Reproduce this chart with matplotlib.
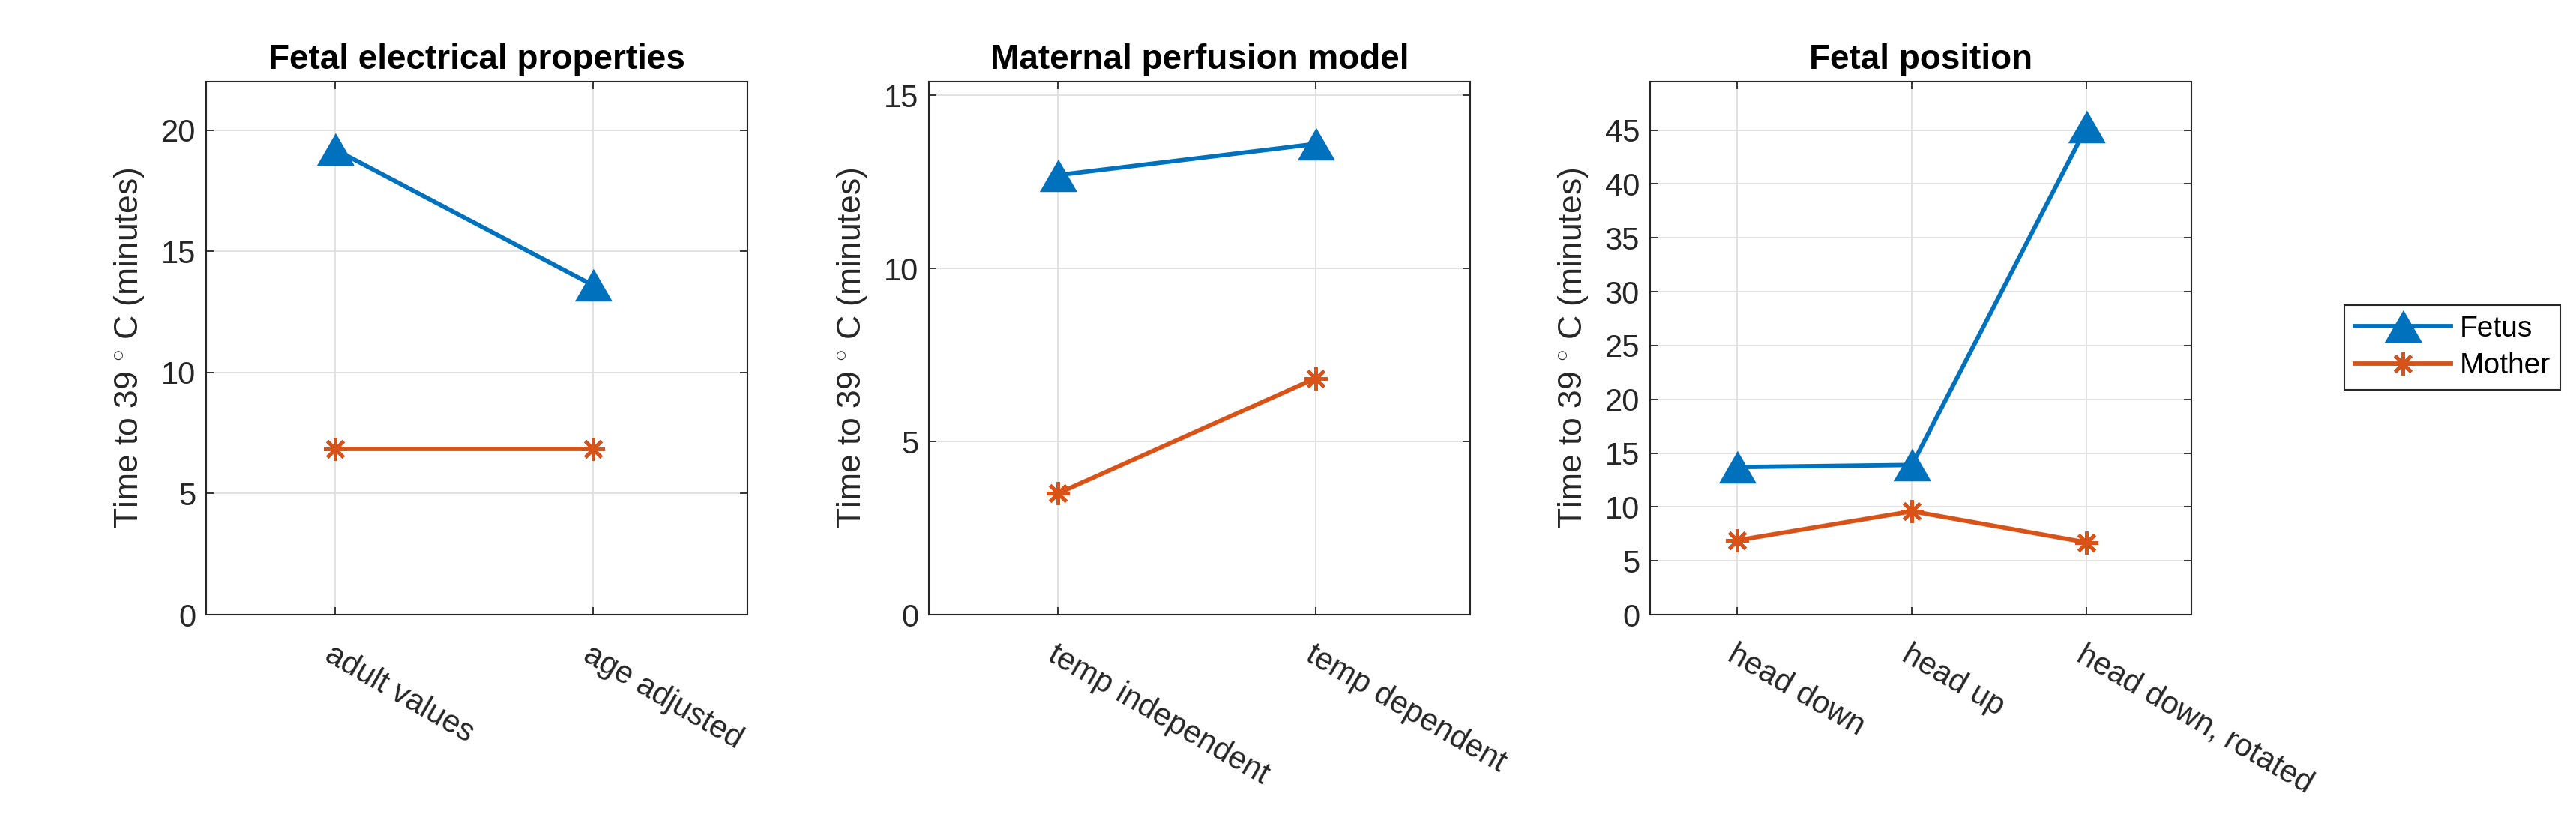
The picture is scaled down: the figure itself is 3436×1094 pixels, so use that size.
import matplotlib
matplotlib.use("Agg")
import matplotlib.pyplot as plt
from matplotlib.lines import Line2D

plt.rcParams['font.family'] = ['Liberation Sans', 'DejaVu Sans']
plt.rcParams['mathtext.fontset'] = 'custom'
plt.rcParams['mathtext.rm'] = 'Liberation Sans'

# data
titles = ['Fetal electrical properties', 'Maternal perfusion model', 'Fetal position']
cats_elec = ['adult values', 'age adjusted']
fetus_elec = [19.2, 13.6]
mother_elec = [6.85, 6.85]

cats_perf = ['temp independent', 'temp dependent']
fetus_perf = [12.7, 13.6]
mother_perf = [3.5, 6.83]

cats_pos = ['head down', 'head up', 'head down, rotated']
fetus_pos = [13.7, 13.9, 45.3]
mother_pos = [6.9, 9.6, 6.7]

ylims = [22, 15.4, 49.5]
yticks = [range(0, 21, 5), range(0, 16, 5), range(0, 46, 5)]

blue = '#0072BD'
orange = '#D95319'
axcol = '#262626'
tri = [(-1, -0.866), (1, -0.866), (0, 0.866)]

fig = plt.figure(figsize=(34.37, 10.94), dpi=100)
lefts = [275, 1239, 2201]
panels = [(cats_elec, fetus_elec, mother_elec),
          (cats_perf, fetus_perf, mother_perf),
          (cats_pos, fetus_pos, mother_pos)]

for k in range(3):
    cats, fet, mom = panels[k]
    ax = fig.add_axes([lefts[k] / 3437, 274 / 1094, 722 / 3437, 711 / 1094])
    x = list(range(1, len(cats) + 1))
    ax.plot(x, fet, color=blue, lw=4.2, marker=tri, ms=35, mec=blue, mfc=blue, label='Fetus')
    ax.plot(x, mom, color=orange, lw=4.2, marker=(8, 2, 0), ms=22, mew=3.5, mec=orange, label='Mother')
    ax.set_xlim(0.5, len(cats) + 0.6)
    ax.set_ylim(0, ylims[k])
    ax.set_xticks(x)
    ax.set_xticklabels(cats, rotation=-30, ha='left', va='top', rotation_mode='anchor')
    ax.set_yticks(list(yticks[k]))
    ax.grid(True, color='#dfdfdf', lw=1.3)
    ax.set_axisbelow(True)
    ax.tick_params(direction='in', top=True, right=True, length=7, width=1.3,
                   labelsize=30, colors=axcol)
    ax.tick_params(axis='y', pad=10)
    ax.tick_params(axis='x', pad=24)
    for s in ax.spines.values():
        s.set_color(axcol)
        s.set_linewidth(1.5)
    ax.set_ylabel('Time to 39 $^{\\circ}$ C (minutes)', fontsize=32, color=axcol, labelpad=14)
    ax.set_title(titles[k], fontsize=33, fontweight='bold', pad=12)

handles = [Line2D([], [], color=blue, lw=4.2, marker=tri, ms=35, mec=blue, mfc=blue),
           Line2D([], [], color=orange, lw=4.2, marker=(8, 2, 0), ms=22, mew=3.5, mec=orange)]
leg = fig.legend(handles, ['Fetus', 'Mother'], loc='upper left',
                 bbox_to_anchor=(3127 / 3437, 1 - 407 / 1094), fontsize=28,
                 fancybox=False, edgecolor=axcol, framealpha=1, handlelength=3.3,
                 handletextpad=0.3, borderpad=0.35, labelspacing=0.35, borderaxespad=0)
leg.get_frame().set_linewidth(1.5)

fig.savefig('out.png', dpi=100)
